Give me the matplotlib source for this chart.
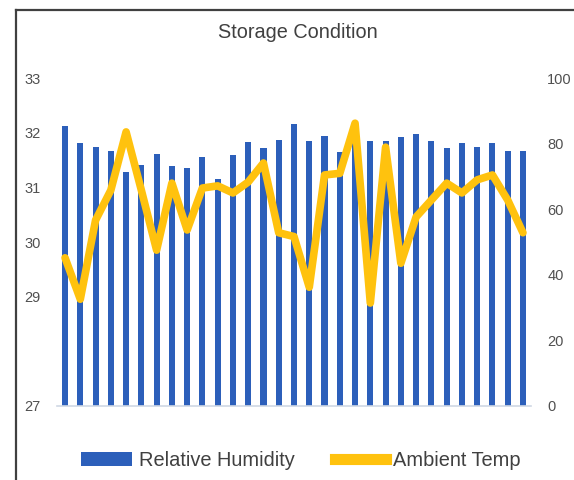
import matplotlib
matplotlib.use("Agg")
import matplotlib.pyplot as plt
from matplotlib.lines import Line2D
from matplotlib.patches import Patch

plt.rcParams['font.family'] = ['Liberation Sans', 'DejaVu Sans']

# daily readings for the month
days = list(range(1, 32))
humidity = [85.5, 80.3, 79.1, 77.8, 71.4, 73.5, 76.9, 73.2, 72.6, 76.0,
            69.3, 76.6, 80.6, 78.7, 81.2, 86.1, 80.9, 82.4, 77.5, 81.2,
            80.9, 80.9, 82.1, 83.0, 80.9, 78.7, 80.3, 79.1, 80.3, 77.8, 77.8]
temp = [29.71, 28.95, 30.40, 30.95, 32.02, 30.95, 29.85, 31.08, 30.22, 30.99,
        31.03, 30.90, 31.10, 31.45, 30.17, 30.10, 29.17, 31.23, 31.26, 32.18,
        28.88, 31.74, 29.61, 30.46, 30.77, 31.08, 30.90, 31.14, 31.23, 30.77, 30.17]

temp_ticks = [27, 29, 30, 31, 32, 33]
hum_ticks = [0, 20, 40, 60, 80, 100]

BLUE = '#2c5fba'
GOLD = '#ffc20e'
TXT = '#505050'

W, H = 574, 480
fig = plt.figure(figsize=(W / 100, H / 100), dpi=100)

ax = fig.add_axes([57.4 / W, 1 - 405.5 / H, 473.2 / W, 327 / H])
ax2 = ax.twinx()

x = [d - 1 for d in days]
ax.bar(x, humidity, width=0.4, color=BLUE, zorder=2)
ax.set_ylim(0, 100)
ax.set_xlim(-0.5, 30.5)
ax.set_xticks([])

ax2.plot(x, temp, color=GOLD, lw=5.5, solid_joinstyle='round', solid_capstyle='round')
ax2.set_ylim(27, 33)

# humidity scale on the right, temperature on the left
ax.yaxis.tick_right()
ax.set_yticks(hum_ticks)
ax2.yaxis.tick_left()
ax2.set_yticks(temp_ticks)
for a in (ax, ax2):
    a.tick_params(axis='y', length=0, pad=12, labelsize=10.5, labelcolor=TXT)
for s in ['top', 'left', 'right']:
    ax.spines[s].set_visible(False)
ax.spines['bottom'].set_color('#d0d8e4')
ax.spines['bottom'].set_linewidth(1.2)
for s in ax2.spines.values():
    s.set_visible(False)

fig.text(297.5 / W, 1 - 32 / H, 'Storage Condition', ha='center', va='center',
         fontsize=14.3, color='#404040')

# outer frame, open to the right and bottom
fig.add_artist(Line2D([16 / W, 16 / W], [0, 1 - 10 / H], color='#404040', lw=1.6))
fig.add_artist(Line2D([16 / W, 1], [1 - 10 / H, 1 - 10 / H], color='#404040', lw=1.6))

handles = [Patch(facecolor=BLUE, edgecolor='none'),
           Line2D([0], [0], color=GOLD, lw=8)]
fig.legend(handles, ['Relative Humidity', 'Ambient Temp'], loc='center',
           bbox_to_anchor=(301 / W, 1 - 460 / H), ncol=2, frameon=False,
           fontsize=14.4, handlelength=2.55, handleheight=0.7, handletextpad=0.35,
           columnspacing=2.0, labelcolor='#404040')

fig.savefig('out.png', dpi=100)
